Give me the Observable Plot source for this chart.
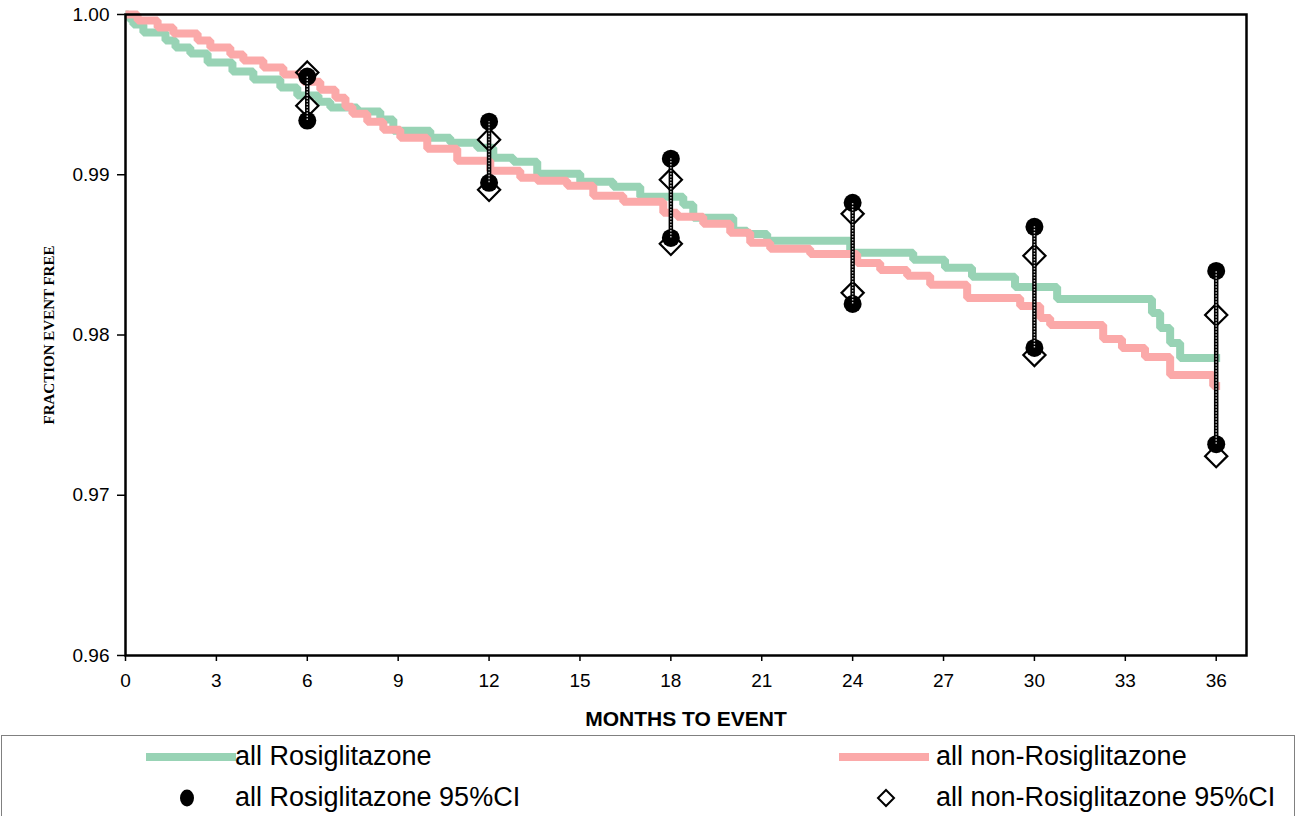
<!DOCTYPE html>
<html>
<head>
<meta charset="utf-8">
<script src="https://cdn.jsdelivr.net/npm/d3@7"></script>
<script src="https://cdn.jsdelivr.net/npm/@observablehq/plot@0.6"></script>
<style>
  html, body { margin: 0; padding: 0; background: #fff; }
  #wrap { position: relative; width: 1296px; height: 816px; overflow: hidden; font-family: "Liberation Sans", Arial, sans-serif; }
  #chart svg { display: block; }
  #legend { position: absolute; left: 1px; top: 735px; width: 1292px; height: 100px; border: 1px solid #808080; border-bottom: none; }
  .item { position: absolute; font-size: 27px; line-height: 1; color: #000; white-space: nowrap; }
  .sym { position: absolute; }
</style>
</head>
<body>
<div id="wrap">
  <div id="chart"></div>
  <div id="legend"></div>
</div>
<script>
// Kaplan-Meier step curves (months from start, fraction event free)
const rosiMonths = [0, 0.10, 0.26, 0.59, 1.32, 1.65, 2.14, 2.71, 3.53, 4.22, 5.11, 5.67, 6.37, 6.76, 7.65, 8.41, 8.84, 10.06, 10.72, 11.61, 12.14, 12.80, 13.59, 15.01, 16.10, 16.99, 18.41, 18.74, 20.06, 20.52, 21.18, 23.92, 26.00, 27.05, 27.94, 29.36, 30.75, 33.88, 34.15, 34.48, 34.81, 36.13];
const rosiFraction = [1.0, 0.99975, 0.99938, 0.99888, 0.99838, 0.99794, 0.99756, 0.99700, 0.99644, 0.99594, 0.99544, 0.99494, 0.99456, 0.99419, 0.99394, 0.99344, 0.99275, 0.99231, 0.99200, 0.99169, 0.99106, 0.99081, 0.99006, 0.98956, 0.98925, 0.98863, 0.98813, 0.98731, 0.98650, 0.98631, 0.98588, 0.98513, 0.98469, 0.98419, 0.98363, 0.98300, 0.98225, 0.98138, 0.98044, 0.97950, 0.97856, 0.97856];

const nonRosiMonths = [0, 0.40, 1.06, 1.58, 2.38, 2.80, 3.46, 3.89, 4.55, 5.21, 5.87, 6.43, 6.93, 7.26, 7.49, 7.98, 8.51, 9.07, 9.96, 10.95, 12.04, 13.03, 13.59, 14.58, 15.44, 16.43, 17.75, 18.21, 19.07, 19.96, 20.62, 21.28, 22.60, 24.15, 24.91, 25.80, 26.56, 27.78, 29.53, 30.19, 30.52, 32.27, 32.89, 33.65, 34.48, 35.90, 36.13];
const nonRosiFraction = [1.0, 0.99963, 0.99919, 0.99881, 0.99838, 0.99794, 0.99750, 0.99713, 0.99669, 0.99625, 0.99581, 0.99531, 0.99481, 0.99425, 0.99381, 0.99331, 0.99281, 0.99231, 0.99163, 0.99088, 0.99025, 0.98981, 0.98963, 0.98931, 0.98869, 0.98831, 0.98763, 0.98738, 0.98694, 0.98638, 0.98575, 0.98538, 0.98506, 0.98450, 0.98406, 0.98369, 0.98313, 0.98231, 0.98181, 0.98106, 0.98063, 0.97975, 0.97919, 0.97863, 0.97750, 0.97681, 0.97681];

// 95% confidence limits at six-month checkpoints
const ciMonths = [6, 12, 18, 24, 30, 36];
const rosiUpper = [0.99613, 0.99331, 0.99100, 0.98825, 0.98675, 0.98400];
const rosiLower = [0.99338, 0.98950, 0.98606, 0.98194, 0.97919, 0.97319];
const nonRosiUpper = [0.99638, 0.99219, 0.98969, 0.98756, 0.98494, 0.98125];
const nonRosiLower = [0.99431, 0.98906, 0.98569, 0.98263, 0.97875, 0.97244];

// Axis ticks and labels
const xTicks = [0, 3, 6, 9, 12, 15, 18, 21, 24, 27, 30, 33, 36];
const yTicks = [0.96, 0.97, 0.98, 0.99, 1.00];
const xLabel = "MONTHS TO EVENT";
const yLabel = "FRACTION EVENT FREE";
const seriesNames = ["all Rosiglitazone", "all non-Rosiglitazone", "all Rosiglitazone 95%CI", "all non-Rosiglitazone 95%CI"];

const GREEN = "#98d3b5";
const PINK = "#fba9a9";

const rosi = rosiMonths.map((m, i) => ({month: m, value: rosiFraction[i]}));
const nonRosi = nonRosiMonths.map((m, i) => ({month: m, value: nonRosiFraction[i]}));
const ci = ciMonths.map((m, i) => ({
  month: m,
  rUp: rosiUpper[i], rLo: rosiLower[i],
  nUp: nonRosiUpper[i], nLo: nonRosiLower[i]
}));
const ciPoints = (key) => ci.flatMap(d => key === "r"
  ? [{month: d.month, value: d.rUp}, {month: d.month, value: d.rLo}]
  : [{month: d.month, value: d.nUp}, {month: d.month, value: d.nLo}]);

const chart = Plot.plot({
  width: 1296,
  height: 735,
  marginLeft: 125,
  marginRight: 50,
  marginTop: 14,
  marginBottom: 80,
  style: {fontFamily: "'Liberation Sans', Arial, sans-serif", fontSize: "19px", color: "#000", background: "#fff"},
  x: {domain: [0, 37], ticks: xTicks, tickSize: 6, tickPadding: 12, label: null, tickFormat: d => String(d)},
  y: {domain: [0.96, 1.0], ticks: yTicks, tickSize: 8, tickPadding: 8, label: null, tickFormat: d3.format(".2f")},
  marks: [
    Plot.line(rosi, {x: "month", y: "value", curve: "step-after", stroke: GREEN, strokeWidth: 8, strokeLinejoin: "miter", strokeLinecap: "butt"}),
    Plot.line(nonRosi, {x: "month", y: "value", curve: "step-after", stroke: PINK, strokeWidth: 8, strokeLinejoin: "miter", strokeLinecap: "butt"}),
    Plot.dot(ciPoints("n"), {x: "month", y: "value", symbol: "diamond2", r: 10, stroke: "#000", strokeWidth: 2.2, fill: "none"}),
    Plot.dot(ciPoints("r"), {x: "month", y: "value", symbol: "circle", r: 9, fill: "#000", stroke: "none"}),
    Plot.ruleX(ci, {x: "month", y1: "rLo", y2: "rUp", stroke: "#000", strokeWidth: 4.5}),
    Plot.ruleX(ci, {x: "month", y1: "rLo", y2: "rUp", stroke: "#c8c8c8", strokeWidth: 1.4, strokeDasharray: "1.5,1.5"}),
    Plot.frame({stroke: "#000", strokeWidth: 2.5}),
    Plot.text([xLabel], {text: d => d, frameAnchor: "bottom", dy: 64, fontWeight: "bold", fontSize: 21, lineAnchor: "middle", textAnchor: "middle"}),
    Plot.text([yLabel], {text: d => d, frameAnchor: "left", dx: -76, rotate: -90, fontWeight: "bold", fontSize: 15, fontFamily: "'Liberation Serif', 'Times New Roman', serif", lineAnchor: "middle", textAnchor: "middle"})
  ]
});
// Axis tick labels use the larger chart font
d3.select(chart).selectAll("g[aria-label*='axis']").attr("font-size", 19);
d3.select(chart).selectAll("g[aria-label*='axis'] text").style("font-size", "19px");
d3.select(chart).selectAll("g[aria-label*='axis'] line, g[aria-label*='axis'] path").attr("stroke-width", 1.5);
document.getElementById("chart").appendChild(chart);

// Legend below the chart
const legend = d3.select("#legend");
const rows = [
  {y: 21, name: seriesNames[0], kind: "line", color: GREEN, symX: 144},
  {y: 21, name: seriesNames[1], kind: "line", color: PINK, symX: 837},
  {y: 62, name: seriesNames[2], kind: "circle", symX: 185},
  {y: 62, name: seriesNames[3], kind: "diamond", symX: 884}
];
const textX = [233, 934, 233, 934];
rows.forEach((r, i) => {
  const svg = legend.append("svg").attr("class", "sym")
    .attr("width", 100).attr("height", 30)
    .style("left", (r.kind === "line" ? r.symX : r.symX - 15) + "px")
    .style("top", (r.y - 15) + "px");
  if (r.kind === "line") {
    svg.attr("width", 90);
    svg.append("line").attr("x1", 0).attr("x2", 90).attr("y1", 15).attr("y2", 15)
      .attr("stroke", r.color).attr("stroke-width", 8);
  } else if (r.kind === "circle") {
    svg.attr("width", 30);
    svg.append("ellipse").attr("cx", 15).attr("cy", 15).attr("rx", 7).attr("ry", 8.5).attr("fill", "#000");
  } else {
    svg.attr("width", 30);
    svg.append("path").attr("d", "M15,7L23,15L15,23L7,15Z").attr("fill", "none").attr("stroke", "#000").attr("stroke-width", 2);
  }
  legend.append("div").attr("class", "item")
    .style("left", textX[i] + "px")
    .style("top", (r.y - 14) + "px")
    .text(r.name);
});
</script>
</body>
</html>
